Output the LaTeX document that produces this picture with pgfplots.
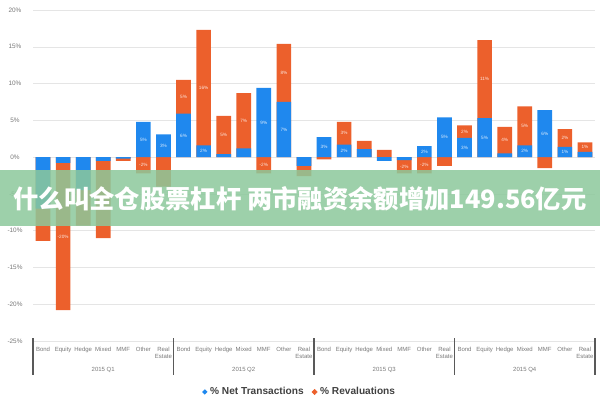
\documentclass[border=0pt]{standalone}
\usepackage{pgfplots}
\pgfplotsset{compat=1.18}
\usepackage{fontspec}
\setmainfont{Liberation Sans}
\newfontfamily\cjk{Noto Sans CJK SC}
\definecolor{bluec}{RGB}{31,136,238}
\definecolor{orangec}{RGB}{236,96,44}
\definecolor{bannerg}{RGB}{140,200,155}
\definecolor{tickg}{RGB}{120,120,120}
\begin{document}
\begin{tikzpicture}
\path (0,0) rectangle (450pt,300pt);
\begin{axis}[
  at={(24.75pt,44.25pt)}, anchor=south west,
  scale only axis, width=421.5pt, height=248.25pt,
  xmin=-0.5, xmax=27.5, ymin=-25, ymax=20,
  ytick={-25,-20,...,20},
  yticklabel={\pgfmathprintnumber{\tick}\%},
  /pgf/number format/assume math mode=true,
  ymajorgrids, grid style={black!10, line width=0.4pt},
  axis line style={draw=none}, major tick length=0pt,
  xtick={0,...,27},
  xticklabels={Bond,Equity,Hedge,Mixed,MMF,Other,Real\\Estate,
               Bond,Equity,Hedge,Mixed,MMF,Other,Real\\Estate,
               Bond,Equity,Hedge,Mixed,MMF,Other,Real\\Estate,
               Bond,Equity,Hedge,Mixed,MMF,Other,Real\\Estate},
  xticklabel style={font=\fontsize{4.5}{5}\selectfont, text=tickg, align=center, anchor=north, yshift=-1pt},
  yticklabel style={font=\fontsize{4.8}{5}\selectfont, text=tickg, anchor=center, xshift=-13.5pt},
  clip=false,
  legend style={at={(0.475,-0.154)}, anchor=center, draw=none, fill=none,
    legend columns=2, font=\bfseries\fontsize{7.6}{8}\selectfont, text=black!75,
    /tikz/every even column/.append style={column sep=4pt}},
]
\addplot[ybar, bar width=11pt, bar shift=0pt, fill=orangec, draw=none, forget plot] coordinates {
(0,-11.4) (1,-20.8) (2,-9.3) (3,-11.0) (4,-0.5) (5,-2.2) (6,-4.0)
(7,10.5) (8,17.3) (9,5.6) (10,8.7) (11,-2.2) (12,15.4) (13,-2.6)
(14,-0.3) (15,4.8) (16,2.2) (17,1.0) (18,-2.2) (19,-2.2) (20,-1.2)
(21,4.3) (22,15.9) (23,4.1) (24,6.9) (25,-1.5) (26,3.8) (27,2.0)};
\addplot[ybar, bar width=11pt, bar shift=0pt, fill=bluec, draw=none,
  legend image code/.code={\fill[bluec] (0.15cm,2pt) -- (0.15cm+2pt,0pt) -- (0.15cm,-2pt) -- (0.15cm-2pt,0pt) -- cycle;}] coordinates {
(0,-7.0) (1,-0.8) (2,-4.5) (3,-0.5) (4,-0.2) (5,4.8) (6,3.1)
(7,5.9) (8,1.6) (9,0.4) (10,1.2) (11,9.4) (12,7.5) (13,-1.2)
(14,2.7) (15,1.7) (16,1.1) (17,-0.5) (18,-0.4) (19,1.5) (20,5.4)
(21,2.6) (22,5.3) (23,0.5) (24,1.6) (25,6.4) (26,1.4) (27,0.7)};
\addlegendentry{\% Net Transactions}
\addlegendimage{legend image code/.code={\fill[orangec] (0.15cm,2pt) -- (0.15cm+2pt,0pt) -- (0.15cm,-2pt) -- (0.15cm-2pt,0pt) -- cycle;}}
\addlegendentry{\% Revaluations}
\addplot[only marks, mark=none, forget plot, nodes near coords, point meta=explicit symbolic,
  every node near coord/.style={font=\fontsize{3.5}{4}\selectfont, text=white, anchor=center, opacity=0.85}] coordinates {
(5,2.4)[5\%] (6,1.55)[3\%] (7,2.95)[6\%] (8,0.8)[2\%]
(11,4.7)[9\%] (12,3.75)[7\%] (14,1.35)[3\%] (15,0.85)[2\%] (19,0.75)[2\%] (20,2.7)[5\%]
(21,1.3)[3\%] (22,2.65)[5\%] (24,0.8)[2\%] (25,3.2)[6\%] (26,0.7)[1\%]
(1,-10.8)[-20\%] (5,-1.1)[-2\%]
(7,8.2)[5\%] (8,9.45)[16\%] (9,3.0)[5\%] (10,4.95)[7\%] (11,-1.1)[-2\%] (12,11.45)[8\%]
(15,3.25)[3\%] (18,-1.3)[-2\%] (19,-1.1)[-2\%] (21,3.45)[2\%] (22,10.6)[11\%]
(23,2.3)[4\%] (24,4.25)[5\%] (26,2.6)[2\%] (27,1.35)[1\%]};
\draw[black!65, line width=1.4pt] ([yshift=2pt]axis cs:-0.5,-25) -- ([yshift=-25.5pt]axis cs:-0.5,-25);
\draw[black!65, line width=1.4pt] ([yshift=2pt]axis cs:6.5,-25) -- ([yshift=-25.5pt]axis cs:6.5,-25);
\draw[black!65, line width=1.4pt] ([yshift=2pt]axis cs:13.5,-25) -- ([yshift=-25.5pt]axis cs:13.5,-25);
\draw[black!65, line width=1.4pt] ([yshift=2pt]axis cs:20.5,-25) -- ([yshift=-25.5pt]axis cs:20.5,-25);
\draw[black!65, line width=1.4pt] ([yshift=2pt]axis cs:27.5,-25) -- ([yshift=-25.5pt]axis cs:27.5,-25);
\node[font=\fontsize{4.5}{5}\selectfont, text=tickg] at ([yshift=-21.75pt]axis cs:3,-25) {2015 Q1};
\node[font=\fontsize{4.5}{5}\selectfont, text=tickg] at ([yshift=-21.75pt]axis cs:10,-25) {2015 Q2};
\node[font=\fontsize{4.5}{5}\selectfont, text=tickg] at ([yshift=-21.75pt]axis cs:17,-25) {2015 Q3};
\node[font=\fontsize{4.5}{5}\selectfont, text=tickg] at ([yshift=-21.75pt]axis cs:24,-25) {2015 Q4};
\end{axis}
\fill[bannerg, opacity=0.85] (0pt,172.5pt) rectangle (450pt,130.5pt);
\node[text=white, font=\cjk\bfseries\fontsize{19}{20}\selectfont, inner sep=0pt] at (225pt,150.75pt) {什么叫全仓股票杠杆 两市融资余额增加149.56亿元};
\end{tikzpicture}
\end{document}
